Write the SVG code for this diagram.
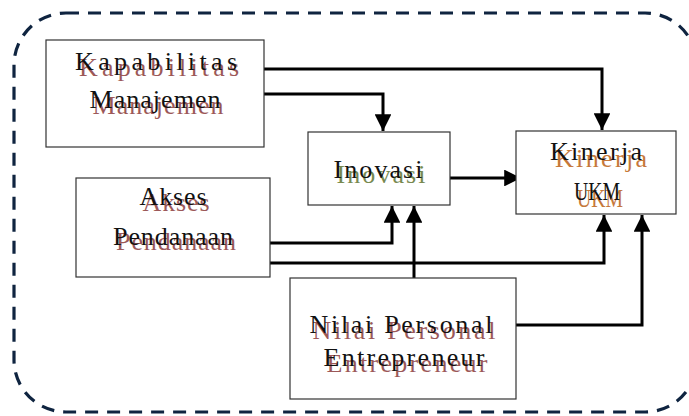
<svg xmlns="http://www.w3.org/2000/svg" width="689" height="416" viewBox="0 0 689 416">
<defs>
<style>
.box{fill:#fff;stroke:#333;stroke-width:1.2}
.t{font-family:"Liberation Serif","DejaVu Serif",serif;font-size:26px;text-anchor:middle}
.k{fill:#111}
.r{fill:#8b3b3b;opacity:0.85}
.g{fill:#6a7d3c;opacity:0.9}
.o{fill:#c06a25;opacity:0.9}
.c{fill:none;stroke:#000;stroke-width:3}
</style>
<marker id="ah" viewBox="0 0 10 10" refX="10" refY="5" markerWidth="6" markerHeight="5.6" markerUnits="strokeWidth" orient="auto">
<path d="M0,0 L10,5 L0,10 z" fill="#000"/>
</marker>
</defs>
<rect x="14" y="13" width="683" height="399" rx="52" ry="52" fill="none" stroke="#0f2440" stroke-width="3.2" stroke-dasharray="13 9"/>
<g id="connectors">
<path class="c" d="M264,69 H602 V130" marker-end="url(#ah)"/>
<path class="c" d="M264,94 H383 V131" marker-end="url(#ah)"/>
<path class="c" d="M450,178 H521" marker-end="url(#ah)"/>
<path class="c" d="M270,243 H392 V206" marker-end="url(#ah)"/>
<path class="c" d="M270,263 H604 V215" marker-end="url(#ah)"/>
<path class="c" d="M414,278 V206" marker-end="url(#ah)"/>
<path class="c" d="M516,325 H642 V215" marker-end="url(#ah)"/>
</g>
<g id="kapabilitas">
<rect class="box" x="46" y="40" width="218" height="107"/>
<text class="t r" x="159" y="76" textLength="160" lengthAdjust="spacing">Kapabilitas</text>
<text class="t r" x="158" y="114" textLength="131" lengthAdjust="spacing">Manajemen</text>
<text class="t k" x="156" y="70" textLength="162" lengthAdjust="spacing">Kapabilitas</text>
<text class="t k" x="155" y="108" textLength="131" lengthAdjust="spacing">Manajemen</text>
</g>
<g id="inovasi">
<rect class="box" x="308" y="132" width="142" height="73"/>
<text class="t g" x="381" y="183" textLength="89" lengthAdjust="spacing">Inovasi</text>
<text class="t k" x="378" y="178" textLength="89" lengthAdjust="spacing">Inovasi</text>
</g>
<g id="kinerja">
<rect class="box" x="516" y="131" width="160" height="83"/>
<text class="t o" x="601" y="167" textLength="92" lengthAdjust="spacing">Kinerja</text>
<text class="t o" x="600" y="207" textLength="46" lengthAdjust="spacingAndGlyphs">UKM</text>
<text class="t k" x="596" y="160" textLength="92" lengthAdjust="spacing">Kinerja</text>
<text class="t k" x="597" y="200" textLength="46" lengthAdjust="spacingAndGlyphs">UKM</text>
</g>
<g id="akses">
<rect class="box" x="76" y="178" width="194" height="99"/>
<text class="t r" x="176" y="211" textLength="67" lengthAdjust="spacing">Akses</text>
<text class="t r" x="176" y="250" textLength="120" lengthAdjust="spacing">Pendanaan</text>
<text class="t k" x="173" y="205" textLength="67" lengthAdjust="spacing">Akses</text>
<text class="t k" x="173" y="245" textLength="120" lengthAdjust="spacing">Pendanaan</text>
</g>
<g id="nilai">
<rect class="box" x="290" y="278" width="226" height="121"/>
<text class="t r" x="404" y="339" textLength="183" lengthAdjust="spacing">Nilai Personal</text>
<text class="t r" x="407" y="372" textLength="161" lengthAdjust="spacing">Entrepreneur</text>
<text class="t k" x="401" y="333" textLength="183" lengthAdjust="spacing">Nilai Personal</text>
<text class="t k" x="404" y="366" textLength="161" lengthAdjust="spacing">Entrepreneur</text>
</g>
</svg>
